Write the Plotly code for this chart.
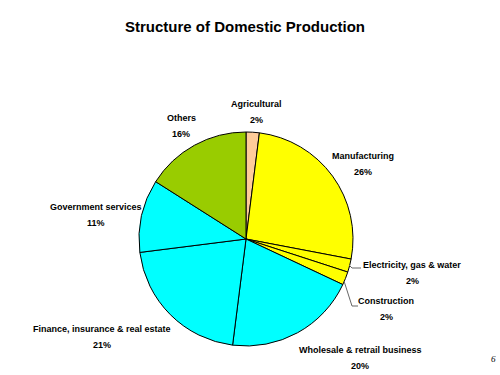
import plotly.graph_objects as go

categories = ["Agricultural", "Manufacturing", "Electricity, gas & water", "Construction",
              "Wholesale & retrail business", "Finance, insurance & real estate",
              "Government services", "Others"]
shares = [2, 26, 2, 2, 20, 21, 11, 16]
colors = ["#FFCC99", "#FFFF00", "#FFFF00", "#FFFF00", "#00FFFF", "#00FFFF", "#00FFFF", "#99CC00"]

W, H = 500, 375

def px(x, y):
    return x / W, 1 - y / H

fig = go.Figure(go.Pie(
    labels=categories, values=shares, sort=False, direction="clockwise", rotation=0,
    marker=dict(colors=colors, line=dict(color="black", width=1)),
    textinfo="none", hoverinfo="label+percent", showlegend=False,
    domain=dict(x=[(246 - 107) / W, (246 + 107) / W], y=[1 - 346 / H, 1 - 132 / H]),
))

# label positions (pixel centers of first line)
label_pos = {
    "Agricultural": (256, 104),
    "Manufacturing": (363, 156),
    "Electricity, gas & water": (412, 265),
    "Construction": (386, 301),
    "Wholesale & retrail business": (360, 350),
    "Finance, insurance & real estate": (102, 329),
    "Government services": (96, 207),
    "Others": (181, 118),
}
font = dict(family="Arial, Liberation Sans, sans-serif", size=9, color="black")
ann = []
for c, v in zip(categories, shares):
    x, y = label_pos[c]
    ax, ay = px(x, y)
    ann.append(dict(x=ax, y=ay, xref="paper", yref="paper", text=f"<b>{c}</b>", showarrow=False,
                    font=font, xanchor="center", yanchor="middle"))
    bx, by = px(x, y + 15.5)
    ann.append(dict(x=bx, y=by, xref="paper", yref="paper", text=f"<b>{v}%</b>", showarrow=False,
                    font=font, xanchor="center", yanchor="middle"))

tx, ty = px(245, 27)
ann.append(dict(x=tx, y=ty, xref="paper", yref="paper", text="<b>Structure of Domestic Production</b>",
                showarrow=False, font=dict(family="Arial, Liberation Sans, sans-serif", size=15, color="black"),
                xanchor="center", yanchor="middle"))
sx, sy = px(493, 359)
ann.append(dict(x=sx, y=sy, xref="paper", yref="paper", text="<i>6</i>", showarrow=False,
                font=dict(family="Liberation Serif, serif", size=9, color="black"),
                xanchor="center", yanchor="middle"))

def path(points):
    d = ""
    for i, (x, y) in enumerate(points):
        X, Y = px(x, y)
        d += ("M" if i == 0 else "L") + f"{X},{Y} "
    return d

shapes = [
    dict(type="path", xref="paper", yref="paper", path=path([(349, 265), (352, 268), (361, 268)]),
         line=dict(color="#666666", width=1)),
    dict(type="path", xref="paper", yref="paper", path=path([(344, 281), (352, 306), (358, 306)]),
         line=dict(color="#666666", width=1)),
]

fig.update_layout(width=W, height=H, margin=dict(l=0, r=0, t=0, b=0),
                  paper_bgcolor="white", plot_bgcolor="white",
                  annotations=ann, shapes=shapes)
fig.write_html("out.html", config={"displayModeBar": False},
               post_script="document.body.style.margin='0';document.body.style.overflow='hidden';")
